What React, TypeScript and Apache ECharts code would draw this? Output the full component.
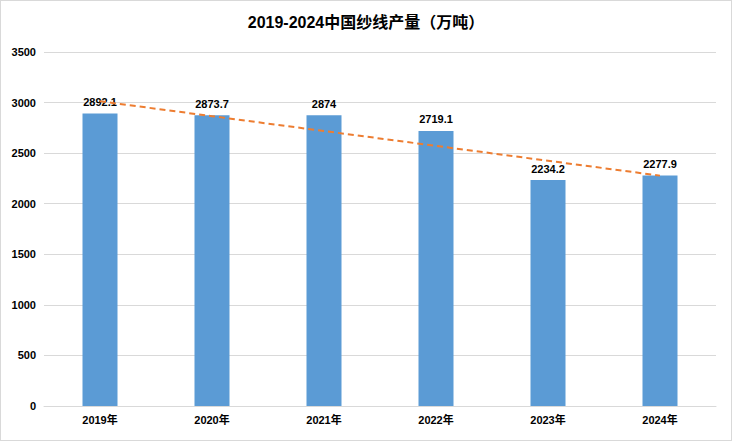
import React, { useEffect, useRef } from "react";
import * as echarts from "echarts";

const title = "2019-2024中国纱线产量（万吨）";
const categories = ["2019年", "2020年", "2021年", "2022年", "2023年", "2024年"];
const production = [2892.1, 2873.7, 2874, 2719.1, 2234.2, 2277.9];
const yTicks = { min: 0, max: 3500, interval: 500 };

// Linear trendline (least squares fit of the production values, like Excel's trendline)
function trend(values: number[]): number[] {
  const n = values.length;
  const xm = (n - 1) / 2;
  const ym = values.reduce((a, b) => a + b, 0) / n;
  let sxy = 0;
  let sxx = 0;
  values.forEach((v, i) => {
    sxy += (i - xm) * (v - ym);
    sxx += (i - xm) * (i - xm);
  });
  const slope = sxy / sxx;
  return values.map((_, i) => +(ym + slope * (i - xm)).toFixed(1));
}

export default function App() {
  const ref = useRef<HTMLDivElement>(null);
  useEffect(() => {
    if (!ref.current) return;
    const chart = echarts.init(ref.current, null, { renderer: "svg" });
    const font = "'Liberation Sans', 'Noto Sans CJK SC', sans-serif";
    chart.setOption({
      animation: false,
      backgroundColor: "#ffffff",
      title: {
        text: title,
        left: "center",
        top: 8,
        textStyle: { fontFamily: font, fontSize: 16, fontWeight: "bold", color: "#000" },
      },
      grid: { left: 43, right: 15, top: 51, bottom: 34, containLabel: false },
      xAxis: {
        type: "category",
        data: categories,
        axisLine: { show: true, lineStyle: { color: "#d9d9d9" } },
        axisTick: { show: false },
        axisLabel: { fontFamily: font, fontSize: 11, fontWeight: "bold", color: "#000", margin: 8 },
      },
      yAxis: {
        type: "value",
        min: yTicks.min,
        max: yTicks.max,
        interval: yTicks.interval,
        axisLine: { show: false },
        axisTick: { show: false },
        splitLine: { lineStyle: { color: "#d9d9d9" } },
        axisLabel: {
          fontFamily: font,
          fontSize: 11,
          fontWeight: "bold",
          color: "#000",
          margin: 8,
          formatter: (v: number) => String(v),
        },
      },
      series: [
        {
          type: "bar",
          data: production,
          barWidth: 35,
          itemStyle: { color: "#5b9bd5" },
          label: {
            show: true,
            position: "top",
            distance: 6,
            fontFamily: font,
            fontSize: 11,
            fontWeight: "bold",
            color: "#000",
          },
        },
        {
          type: "line",
          data: trend(production),
          symbol: "none",
          silent: true,
          lineStyle: { color: "#ed7d31", width: 2, type: [6, 4] },
          z: 5,
        },
      ],
    });
    return () => chart.dispose();
  }, []);
  return (
    <div
      style={{
        width: 730,
        height: 439,
        border: "1px solid #d9d9d9",
        position: "absolute",
        left: 0,
        top: 0,
      }}
    >
      <div ref={ref} style={{ width: 730, height: 439 }} />
    </div>
  );
}
